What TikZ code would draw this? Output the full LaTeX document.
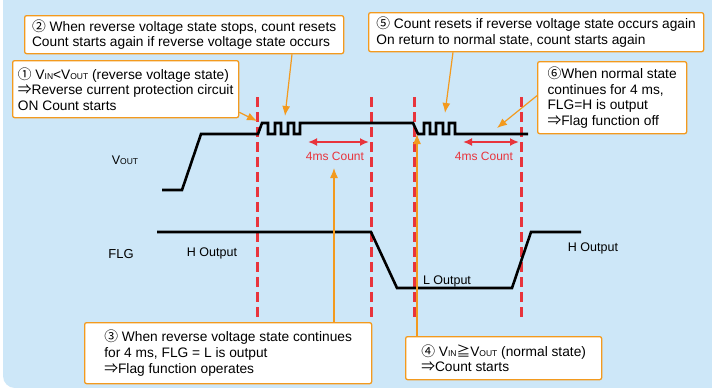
\documentclass[tikz,border=0pt]{standalone}
\usepackage{fontspec}
\setmainfont{Liberation Sans}
\newfontfamily\cjk{Noto Sans CJK JP}
\usetikzlibrary{arrows.meta, calc}
\definecolor{bgblue}{HTML}{CDE7F8}
\definecolor{callorange}{HTML}{F39A1E}
\definecolor{markred}{HTML}{E8343C}
\tikzstyle{callbox} = [rectangle, draw=callorange, line width=1.3pt, fill=white,
                       rounded corners=2pt, align=left, anchor=north west,
                       inner xsep=3pt, inner ysep=2pt,
                       font=\fontsize{13.75}{15.6}\selectfont]
\tikzstyle{callarrow} = [callorange, line width=1.2pt,
                         -{Latex[length=10pt,width=8pt]}]
\tikzstyle{wave} = [line width=2.6pt, line join=miter]
\tikzstyle{marker} = [markred, line width=3pt, dash pattern=on 10pt off 5pt]
\tikzstyle{countarrow} = [markred, line width=2pt,
                          {Latex[length=9pt,width=8pt]}-{Latex[length=9pt,width=8pt]}]
\tikzstyle{sig} = [font=\fontsize{12.5}{14}\selectfont]
\tikzstyle{counttext} = [markred, font=\fontsize{12}{14}\selectfont]
\newcommand{\jsym}[1]{{\cjk #1}}
\newcommand{\vsub}[1]{V{\fontsize{8.5}{9}\selectfont #1}}
\newcommand{\drawMarker}[2]
{
    \coordinate (#1t) at (#2,97);
    \coordinate (#1b) at (#2,318);
    \draw [marker] (#1t) -- (#1b);
}
\newcommand{\drawCount}[4]
{
    \coordinate (#1l) at (#2,142);
    \coordinate (#1r) at (#3,142);
    \draw [countarrow] (#1l) -- (#1r);
    \node (#1txt) [counttext] at (#4,156) {4ms Count};
}

\begin{document}
\begin{tikzpicture}[x=1pt, y=-1pt]
\useasboundingbox (0,0) rectangle (712,388);
\fill [white] (0,0) rectangle (712,388);
\begin{scope}
\clip (0,0) rectangle (712,388);
\fill [bgblue, rounded corners=12pt] (3,-20) rectangle (740,388);
\end{scope}

% time markers
\drawMarker{m1}{257}
\drawMarker{m2}{371}
\drawMarker{m3}{414}
\drawMarker{m4}{521}

% VOUT
\draw [wave] (162,190) -- (182,190) -- (201,134) -- (258,134) -- (262,123)
  -- (268,123) -- (268,134) -- (275,134) -- (275,123) -- (281,123) -- (281,134)
  -- (288,134) -- (288,123) -- (294,123) -- (294,134) -- (300,134) -- (300,123)
  -- (413,123) -- (418,134) -- (424,134) -- (424,123) -- (430,123) -- (430,134)
  -- (436,134) -- (436,123) -- (443,123) -- (443,134) -- (449,134) -- (449,123)
  -- (455,123) -- (455,134) -- (528,134);

% FLG
\draw [wave] (157,232) -- (371,232) -- (397,288) -- (512,288) -- (531,232)
  -- (581,232);

\node (vout) [font=\fontsize{12.5}{14}\selectfont] at (125,160) {\vsub{OUT}};
\node (flg) [font=\fontsize{13}{14}\selectfont] at (121,254) {FLG};
\node (hout1) [sig] at (212,253) {H Output};
\node (hout2) [sig] at (593,248) {H Output};
\node (lout) [sig] at (447,281) {L Output};

\drawCount{c1}{308}{369}{335}
\drawCount{c2}{463}{519}{484}

% call-outs
\node (b1) [callbox, minimum width=226pt, minimum height=57pt] at (12,60)
  {\jsym{①} \vsub{IN}<\vsub{OUT} (reverse voltage state)\\
   \jsym{⇒}Reverse current protection circuit\\ON Count starts};
\node (b2) [callbox, minimum width=319pt, minimum height=38pt] at (24,15)
  {\jsym{②} When reverse voltage state stops, count resets\\
   Count starts again if reverse voltage state occurs};
\node (b3) [callbox, minimum width=287pt, minimum height=61pt] at (84,322)
  {\jsym{③} When reverse voltage state continues\\
   for 4 ms, FLG = L is output\\\jsym{⇒}Flag function operates};
\node (b4) [callbox, minimum width=196pt, minimum height=43pt] at (405,336)
  {\jsym{④} \vsub{IN}\jsym{≧}\vsub{OUT} (normal state)\\\jsym{⇒}Count starts};
\node (b5) [callbox, minimum width=335pt, minimum height=39pt] at (368,12)
  {\jsym{⑤} Count resets if reverse voltage state occurs again\\
   On return to normal state, count starts again};
\node (b6) [callbox, minimum width=149pt, minimum height=72pt] at (537,61)
  {\jsym{⑥}When normal state\\continues for 4 ms,\\FLG=H is output\\
   \jsym{⇒}Flag function off};

\coordinate (t1) at (257,121);
\coordinate (t2) at (285,116);
\coordinate (t3) at (334,168);
\coordinate (t4) at (417,134);
\coordinate (t5) at (445,113);
\coordinate (t6) at (497,128);
\draw [callarrow] ($(b1.south east)+(0,-6)$) -- (t1);
\draw [callarrow] ($(b2.south west)+(268,0)$) -- (t2);
\draw [callarrow] ($(b3.north west)+(250,0)$) -- (t3);
\draw [callarrow] ($(b4.north west)+(12,0)$) -- (t4);
\draw [callarrow] ($(b5.south west)+(85,0)$) -- (t5);
\draw [callarrow] ($(b6.west)+(0,-2)$) -- (t6);

\end{tikzpicture}
\end{document}
